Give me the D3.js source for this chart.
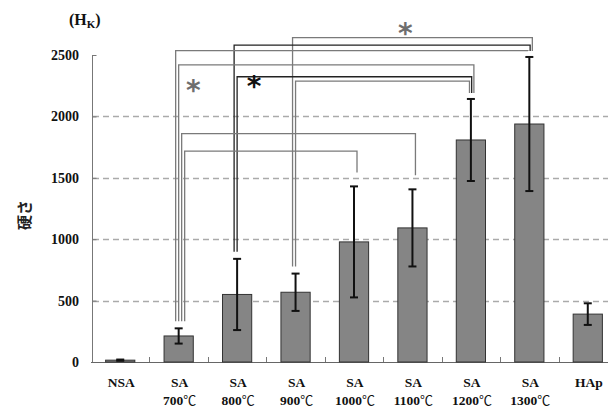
<!DOCTYPE html>
<html>
<head>
<meta charset="utf-8">
<script src="https://cdn.jsdelivr.net/npm/d3@7"></script>
<style>
  body { margin: 0; background: #fff; }
  svg { display: block; }
  .lbl { font-family: "Liberation Serif", "Times New Roman", serif; font-weight: bold; fill: #111; }
</style>
</head>
<body>
<svg width="608" height="410"></svg>
<script>
// Hardness per sample (mean and +/- error)
var groups = ["NSA", "SA|700℃", "SA|800℃", "SA|900℃", "SA|1000℃", "SA|1100℃", "SA|1200℃", "SA|1300℃", "HAp"];
var means = [15, 212, 550, 568, 978, 1092, 1808, 1938, 390];
var errors = [5, 62, 290, 152, 452, 314, 334, 546, 88];
var yTicks = [0, 500, 1000, 1500, 2000, 2500];
var gridTicks = [500, 1000, 1500, 2000];

// significance brackets: from group, to group, level in H_K, dark line?
var brFrom = [3, 2, 1, 1, 2, 3, 1, 1];
var brTo = [7, 7, 7, 6, 6, 6, 5, 4];
var brLevel = [2642, 2581, 2535, 2419, 2323, 2288, 1859, 1718];
var brDark = [false, true, false, false, true, false, false, false];

// asterisks: x in group units, baseline level in H_K, dark?
var starX = [4.88, 1.25, 2.29];
var starLevel = [2598, 2134, 2166];
var starDark = [false, false, true];

var svg = d3.select("svg");

var x = d3.scaleBand()
  .domain(groups)
  .range([91, 617])
  .paddingInner(0.5)
  .paddingOuter(0.25);

var y = d3.scaleLinear()
  .domain([0, 2500])
  .range([362, 55]);

var step = x.step();
function cx(i) { return x(groups[i]) + x.bandwidth() / 2; }

// dashed grid lines
svg.selectAll(".grid")
  .data(gridTicks)
  .enter()
  .append("line")
    .attr("x1", 93)
    .attr("x2", 608)
    .attr("y1", function(d) { return Math.round(y(d)) + 0.5; })
    .attr("y2", function(d) { return Math.round(y(d)) + 0.5; })
    .attr("stroke", "#aaa")
    .attr("stroke-width", 1.3)
    .attr("stroke-dasharray", "6,4");

// y axis
var yAxis = d3.axisLeft(y).tickValues(yTicks).tickSize(-4).tickFormat("");
var gy = svg.append("g")
  .attr("transform", "translate(92.5,0)")
  .call(yAxis);
gy.select(".domain").attr("stroke", "#777").attr("d", "M0," + y(2500) + "V" + y(0));
gy.selectAll(".tick line").attr("stroke", "#777");

svg.selectAll(".ylab")
  .data(yTicks)
  .enter()
  .append("text")
    .attr("class", "lbl")
    .attr("x", 79)
    .attr("y", function(d) { return y(d); })
    .attr("dy", "0.35em")
    .attr("text-anchor", "end")
    .attr("font-size", 14)
    .text(function(d) { return d; });

// x axis line and boundary ticks
svg.append("line")
  .attr("x1", 91).attr("x2", 608)
  .attr("y1", 362.5).attr("y2", 362.5)
  .attr("stroke", "#666");

svg.selectAll(".xtick")
  .data(groups.slice(1))
  .enter()
  .append("line")
    .attr("x1", function(d) { return Math.round(x(d) - (step - x.bandwidth()) / 2) + 0.5; })
    .attr("x2", function(d) { return Math.round(x(d) - (step - x.bandwidth()) / 2) + 0.5; })
    .attr("y1", 362)
    .attr("y2", 357)
    .attr("stroke", "#777");

// bars
svg.selectAll(".bar")
  .data(groups)
  .enter()
  .append("rect")
    .attr("x", function(d) { return x(d); })
    .attr("width", x.bandwidth())
    .attr("y", function(d, i) { return y(means[i]); })
    .attr("height", function(d, i) { return y(0) - y(means[i]); })
    .attr("fill", "#858585")
    .attr("stroke", "#333")
    .attr("stroke-width", 1);

// error bars
groups.forEach(function(g, i) {
  var c = cx(i);
  var top = y(means[i] + errors[i]);
  var bot = y(means[i] - errors[i]);
  var e = svg.append("g").attr("stroke", "#111").attr("stroke-width", 2);
  e.append("line").attr("x1", c).attr("x2", c).attr("y1", top).attr("y2", bot);
  e.append("line").attr("x1", c - 4).attr("x2", c + 4).attr("y1", top).attr("y2", top);
  e.append("line").attr("x1", c - 4).attr("x2", c + 4).attr("y1", bot).attr("y2", bot);
});

// brackets: spread the legs that share a bar
var leftUse = {}, rightUse = {};
var order = d3.range(brFrom.length).sort(function(a, b) { return brLevel[b] - brLevel[a]; });
var leftOff = [], rightOff = [];
order.forEach(function(k) {
  var f = brFrom[k];
  leftUse[f] = (leftUse[f] || 0);
  leftOff[k] = -3 + leftUse[f] * 3;
  leftUse[f]++;
});
// right legs: highest level sits outermost
order.forEach(function(k) {
  var t = brTo[k];
  rightUse[t] = (rightUse[t] || 0);
  rightOff[k] = 3 - rightUse[t] * 2.2;
  rightUse[t]++;
});

brFrom.forEach(function(f, k) {
  var t = brTo[k];
  var lx = cx(f) + leftOff[k];
  var rx = cx(t) + rightOff[k];
  var ly = y(brLevel[k]);
  var lb = y(means[f] + errors[f]) - 7;
  var rb = y(means[t] + errors[t]) - (t === 4 || t === 5 ? 14 : 6);
  svg.append("path")
    .attr("d", "M" + lx + "," + lb + "V" + ly + "H" + rx + "V" + rb)
    .attr("fill", "none")
    .attr("stroke", brDark[k] ? "#222" : "#7a7a7a")
    .attr("stroke-width", 1.3);
});

// asterisks
svg.selectAll(".star")
  .data(starX)
  .enter()
  .append("text")
    .attr("x", function(d) { return 91 + step * (d + 0.5); })
    .attr("y", function(d, i) { return y(starLevel[i]); })
    .attr("text-anchor", "middle")
    .attr("font-family", "DejaVu Sans, sans-serif")
    .attr("font-weight", "bold")
    .attr("font-size", 28)
    .attr("fill", function(d, i) { return starDark[i] ? "#111" : "#6e6e6e"; })
    .text("*");

// category labels (the degree sign comes from a CJK font, full width)
groups.forEach(function(g, i) {
  var parts = g.split("|");
  parts.forEach(function(p, j) {
    var t = svg.append("text")
      .attr("class", "lbl")
      .attr("text-anchor", "middle")
      .attr("font-size", 13.5)
      .attr("x", cx(i) + 1)
      .attr("y", 387 + j * 18);
    var deg = p.indexOf("℃");
    if (deg < 0) {
      t.text(p);
    } else {
      t.append("tspan").text(p.slice(0, deg));
      t.append("tspan")
        .attr("font-family", "Noto Sans CJK JP, sans-serif")
        .attr("font-weight", "normal")
        .attr("font-size", 13)
        .text("℃");
    }
  });
});

// unit label
var unit = svg.append("text")
  .attr("class", "lbl")
  .attr("x", 69)
  .attr("y", 25)
  .attr("font-size", 16);
unit.append("tspan").text("(H");
unit.append("tspan").attr("font-size", 11).attr("dy", 3).text("K");
unit.append("tspan").attr("dy", -3).text(")");

// y axis title
svg.append("text")
  .attr("transform", "translate(30,215) rotate(-90)")
  .attr("text-anchor", "middle")
  .attr("font-family", "Noto Sans CJK JP, sans-serif")
  .attr("font-weight", "bold")
  .attr("font-size", 15)
  .attr("fill", "#222")
  .text("硬さ");
</script>
</body>
</html>
